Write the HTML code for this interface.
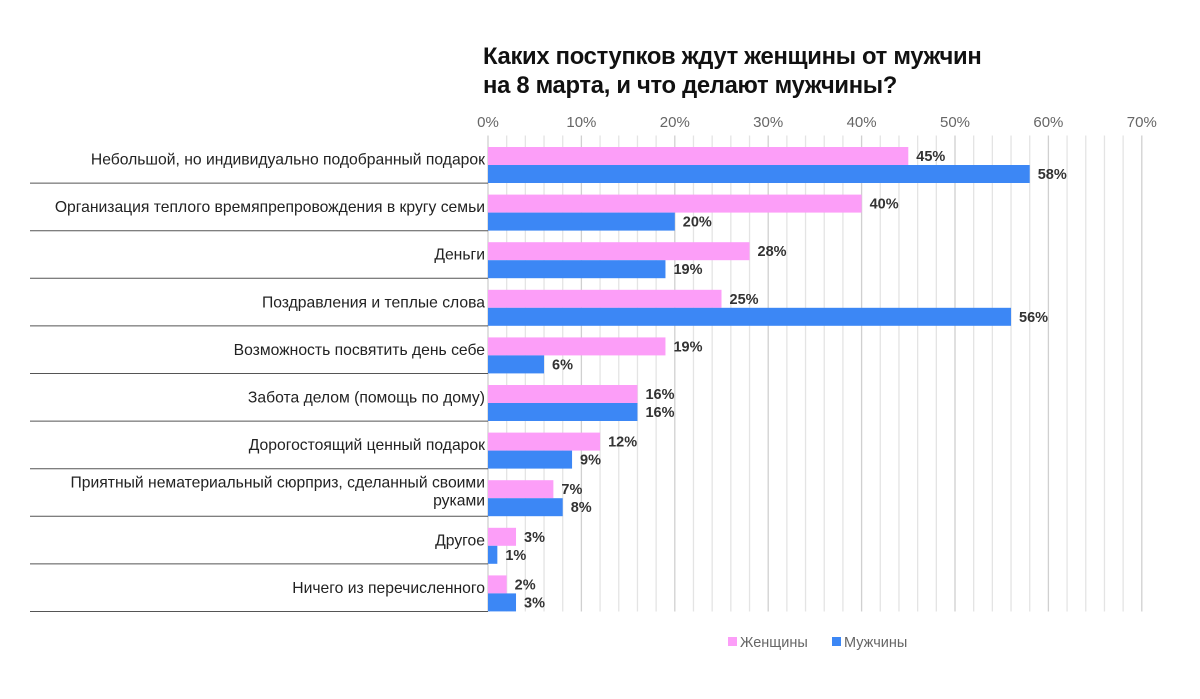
<!DOCTYPE html>
<html><head><meta charset="utf-8"><style>
body{margin:0;background:#fff;font-family:"Liberation Sans","DejaVu Sans",sans-serif}
#wrap{position:relative;width:1200px;height:699px;overflow:hidden}
h1{position:absolute;left:483px;top:42px;margin:0;font-size:23.8px;line-height:29px;font-weight:bold;color:#111;letter-spacing:-0.3px}
</style></head><body>
<div id="wrap">
<h1>Каких поступков ждут женщины от мужчин<br>на 8 марта, и что делают мужчины?</h1>
<svg id="svg" width="1200" height="699" style="position:absolute;left:0;top:0"></svg>
</div>
<script>
const categories=["Небольшой, но индивидуально подобранный подарок","Организация теплого времяпрепровождения в кругу семьи","Деньги","Поздравления и теплые слова","Возможность посвятить день себе","Забота делом (помощь по дому)","Дорогостоящий ценный подарок","Приятный нематериальный сюрприз, сделанный своими|руками","Другое","Ничего из перечисленного"];
const women=[45,40,28,25,19,16,12,7,3,2];
const men=[58,20,19,56,6,16,9,8,1,3];
const ticks=[0,10,20,30,40,50,60,70];
const NS="http://www.w3.org/2000/svg";
const svg=document.getElementById('svg');
const x0=488,ppu=9.34,top0=135.5,band=47.6;
const X=v=>x0+v*ppu;
function mk(t,a,p){const e=document.createElementNS(NS,t);for(const k in a)e.setAttribute(k,a[k]);(p||svg).appendChild(e);return e;}
for(let v=0;v<=70;v+=2){const l=mk('line',{x1:X(v),x2:X(v),y1:top0,y2:top0+band*10,stroke:v%10==0?'#d0d0d0':'#e4e4e4','stroke-width':1.3});

}
ticks.forEach(v=>{const t=mk('text',{x:X(v),y:127,'text-anchor':'middle','font-size':15,fill:'#666'});t.textContent=v+'%';

});
categories.forEach((c,i)=>{const y=top0+i*band;
const s=mk('line',{x1:30,x2:x0,y1:y+band,y2:y+band,stroke:'#555','stroke-width':1});


const parts=c.split('|');
const t=mk('text',{x:485,y:parts.length>1?y+19:y+29,'text-anchor':'end','font-size':15.7,fill:'#222'});


parts.forEach((p,j)=>{const ts=mk('tspan',{x:485,dy:j?18:0},t);ts.textContent=p;});
[[women[i],'#fc9ef8',y+11.5,'bar-women'],[men[i],'#3c87f5',y+29.5,'bar-men']].forEach(([v,col,by,nm])=>{
const r=mk('rect',{x:x0,y:by,width:v*ppu,height:18,fill:col});


const l=mk('text',{x:X(v)+8,y:by+14,'font-size':14.5,'font-weight':'bold',fill:'#333'});l.textContent=v+'%';

});
});
[['#fc9ef8',728,'Женщины','legend-women'],['#3c87f5',832,'Мужчины','legend-men']].forEach(([c,x,n,nm])=>{
const g=mk('g',{});


mk('rect',{x:x,y:637,width:9,height:9,fill:c},g);
const t=mk('text',{x:x+12,y:647,'font-size':14.5,fill:'#666'},g);t.textContent=n;});
</script>
</body></html>
